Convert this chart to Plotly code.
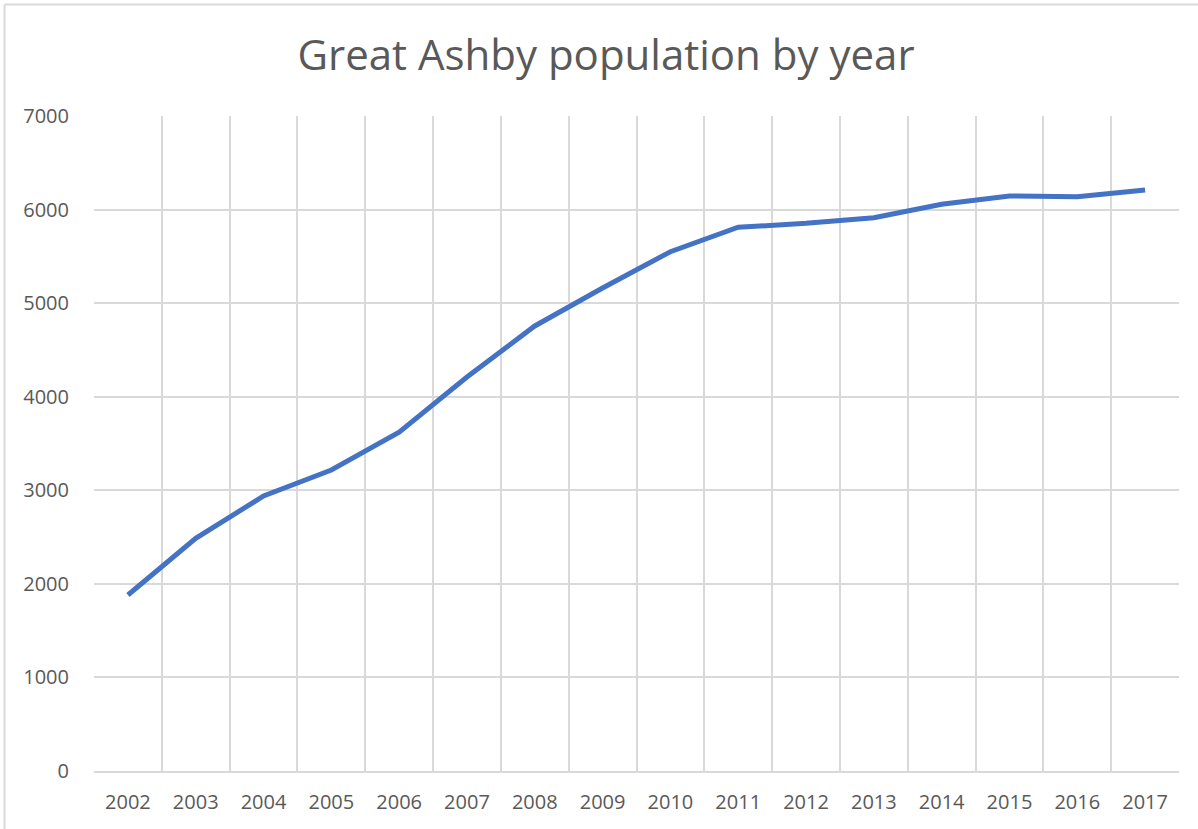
import plotly.graph_objects as go

years = [str(y) for y in range(2002, 2018)]
population = [1881, 2487, 2939, 3217, 3620, 4211, 4756, 5162, 5550, 5811, 5853, 5913, 6056, 6145, 6137, 6209]
y_ticks = [0, 1000, 2000, 3000, 4000, 5000, 6000, 7000]

W, H = 1198, 829
L, R, T, B = 94, 19, 116, 58
pw = W - L - R
ph = H - T - B

fig = go.Figure()
fig.add_trace(go.Scatter(
    x=years, y=population, mode="lines",
    line=dict(color="#4472C4", width=5, shape="linear"),
    hoverinfo="x+y",
))

grid = "#d9d9d9"
fig.update_layout(
    width=W, height=H,
    margin=dict(l=L, r=R, t=T, b=B),
    paper_bgcolor="white", plot_bgcolor="white",
    showlegend=False,
    title=dict(text="Great Ashby population by year", x=606 / W, xanchor="center",
               y=1 - 55 / H, yanchor="middle",
               font=dict(family="Open Sans", size=42, color="#595959")),
    font=dict(family="Open Sans", color="#595959"),
    xaxis=dict(type="category", tickson="boundaries", showgrid=True, gridcolor=grid, gridwidth=1.6,
               showline=True, linecolor=grid, linewidth=1.6, ticks="", range=[-0.5, 15.5],
               tickfont=dict(size=20, color="#595959"), ticklabelstandoff=12),
    yaxis=dict(range=[0, 7000], tickvals=y_ticks, showgrid=True, gridcolor=grid, gridwidth=1.6,
               zeroline=False, showline=False, ticks="",
               tickfont=dict(size=20, color="#595959"), ticklabelstandoff=24),
    shapes=[
        dict(type="line", xref="paper", yref="paper",
             x0=(4.5 - L) / pw, x1=(4.5 - L) / pw, y0=-B / ph, y1=(H - 4.5 - B) / ph,
             line=dict(color="#d9d9d9", width=2)),
        dict(type="line", xref="paper", yref="paper",
             x0=(4.5 - L) / pw, x1=(W - L) / pw, y0=(H - 4.5 - B) / ph, y1=(H - 4.5 - B) / ph,
             line=dict(color="#d9d9d9", width=2)),
    ],
)

fig.write_html("out.html", config={"displayModeBar": False},
               post_script="document.body.style.margin='0';document.body.style.overflow='hidden';")
